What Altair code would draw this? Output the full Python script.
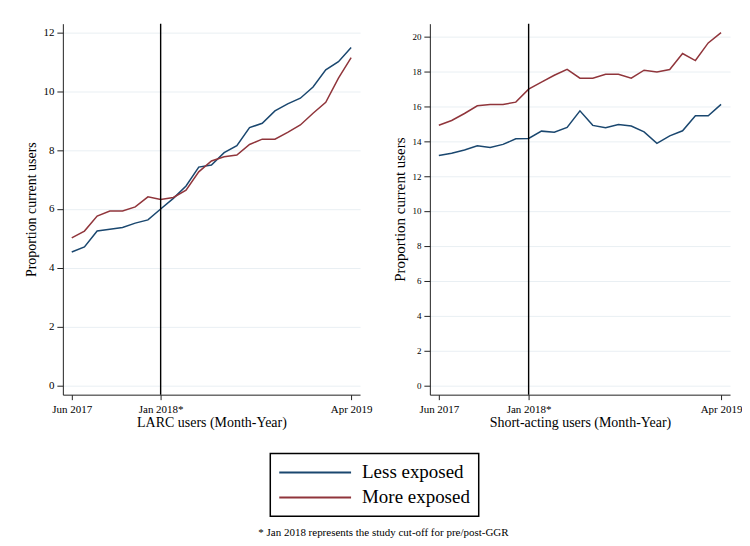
import altair as alt
import pandas as pd

# ---- data ----
months = pd.date_range("2017-06-01", "2019-04-01", freq="MS").strftime("%b %Y").tolist()
tick_months = ["Jun 2017", "Jan 2018", "Apr 2019"]
tick_labels = ["Jun 2017", "Jan 2018*", "Apr 2019"]
cutoff_month = "Jan 2018"
groups = ["Less exposed", "More exposed"]
colors = ["#1a476f", "#90353b"]

larc_less = [4.54, 4.71, 5.25, 5.31, 5.37, 5.52, 5.63, 6.00, 6.36, 6.78, 7.42, 7.49,
             7.91, 8.15, 8.76, 8.91, 9.33, 9.57, 9.76, 10.14, 10.72, 11.00, 11.48]
larc_more = [5.02, 5.25, 5.76, 5.93, 5.93, 6.07, 6.41, 6.32, 6.39, 6.64, 7.26, 7.63,
             7.77, 7.83, 8.19, 8.37, 8.37, 8.60, 8.85, 9.25, 9.62, 10.44, 11.14]
short_less = [13.18, 13.31, 13.49, 13.73, 13.64, 13.81, 14.13, 14.15, 14.57, 14.51, 14.78, 15.73,
              14.90, 14.76, 14.95, 14.86, 14.53, 13.87, 14.30, 14.59, 15.45, 15.45, 16.10]
short_more = [14.91, 15.18, 15.58, 16.02, 16.10, 16.10, 16.23, 16.97, 17.37, 17.77, 18.11, 17.60,
              17.60, 17.83, 17.83, 17.60, 18.06, 17.96, 18.10, 19.01, 18.61, 19.62, 20.21]

FONT = "Liberation Serif"
footnote = "* Jan 2018 represents the study cut-off for pre/post-GGR"


def long_df(less, more):
    rows = []
    for g, vals in zip(groups, [less, more]):
        for i, v in enumerate(vals):
            rows.append({"t": i, "month": months[i], "value": v, "group": g})
    return pd.DataFrame(rows)


tick_vals = [months.index(m) for m in tick_months]
label_expr = " : ".join(
    [f"datum.value == {v} ? '{l}'" for v, l in zip(tick_vals[:-1], tick_labels[:-1])]
    + [f"'{tick_labels[-1]}'"]
)
cut_df = pd.DataFrame({"t": [months.index(cutoff_month)]})

legend = alt.Legend(
    title=None, orient="none", legendX=208, legendY=431,
    symbolType="stroke", symbolSize=5184, symbolStrokeWidth=2,
    labelFont=FONT, labelFontSize=19, labelColor="black", labelOffset=10,
    clipHeight=22, rowPadding=3, padding=8, strokeColor="black",
)


def panel(df, ydom, yticks, xtitle, ylabsize, ytitlesize, width):
    x = alt.X("t:Q", scale=alt.Scale(domain=[-0.7, 22.7], nice=False, zero=False),
              axis=alt.Axis(values=tick_vals, labelExpr=label_expr, title=xtitle,
                            grid=False, tickSize=5, labelPadding=4, labelFontSize=11,
                            titleFontSize=14, titlePadding=1,
                            labelFont=FONT, titleFont=FONT, titleFontWeight="normal"))
    y = alt.Y("value:Q", scale=alt.Scale(domain=ydom, nice=False, zero=False),
              axis=alt.Axis(values=yticks, title="Proportion current users",
                            tickSize=6, labelPadding=3, labelFontSize=ylabsize,
                            titleFontSize=ytitlesize, titlePadding=4, grid=True,
                            labelFont=FONT, titleFont=FONT, titleFontWeight="normal"))
    lines = alt.Chart(df).mark_line(strokeWidth=1.5).encode(
        x=x, y=y,
        color=alt.Color("group:N", scale=alt.Scale(domain=groups, range=colors), legend=legend),
    )
    rule = alt.Chart(cut_df).mark_rule(color="black", strokeWidth=1.4).encode(x="t:Q")
    return alt.layer(lines, rule).properties(width=width, height=372)


left = panel(long_df(larc_less, larc_more), [-0.305, 12.29], list(range(0, 13, 2)),
             "LARC users (Month-Year)", 11, 14, 298)
right = panel(long_df(short_less, short_more), [-0.514, 20.72], list(range(0, 21, 2)),
              "Short-acting users (Month-Year)", 9, 15, 301)

chart = alt.hconcat(left, right, spacing=20).properties(
    padding={"left": 17, "top": 14, "right": 0, "bottom": 0},
    background="white",
    title=alt.TitleParams(text=footnote, orient="bottom", anchor="middle", font=FONT,
                          fontSize=11, fontWeight="normal", color="black", offset=10),
).configure_view(stroke=None).configure_axis(
    domainColor="#222", tickColor="#222", gridColor="#e9eff3", labelColor="black",
    titleColor="black", labelFont=FONT, titleFont=FONT, titleFontWeight="normal",
).configure_legend(strokeWidth=1.5)

chart.save("out.html", embed_options={"renderer": "svg", "actions": False})
